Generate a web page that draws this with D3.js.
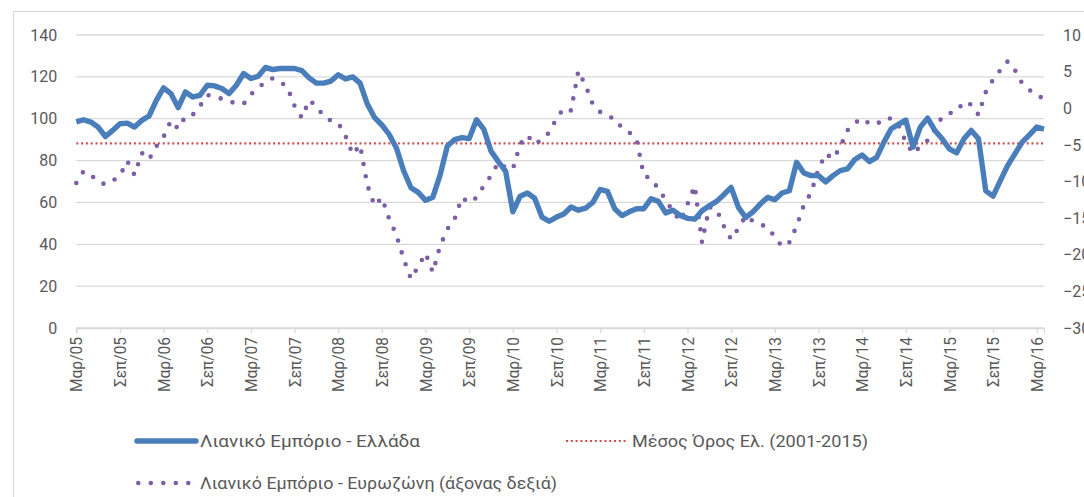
<!DOCTYPE html>
<html><head><meta charset="utf-8">
<script src="https://cdn.jsdelivr.net/npm/d3@7"></script>
<style>
body{margin:0;background:#fff}
svg{display:block}
text{font-family:Roboto,"Liberation Sans",sans-serif;fill:#595959}
</style>
</head><body>
<svg id="chart" width="1084" height="497"></svg>
<script>
// ---- data ----
const monthNames = ["Ιαν","Φεβ","Μαρ","Απρ","Μαϊ","Ιουν","Ιουλ","Αυγ","Σεπ","Οκτ","Νοε","Δεκ"];
// categories: Mar/05 ... Apr/16 (134 months)
const categories = [];
for (let k = 0; k < 134; k++) {
  const m = (2 + k) % 12, y = 5 + Math.floor((2 + k) / 12);
  categories.push(monthNames[m] + "/" + String(y).padStart(2, "0"));
}
const tickLabels = ["Μαρ/05","Σεπ/05","Μαρ/06","Σεπ/06","Μαρ/07","Σεπ/07","Μαρ/08","Σεπ/08","Μαρ/09","Σεπ/09","Μαρ/10","Σεπ/10","Μαρ/11","Σεπ/11","Μαρ/12","Σεπ/12","Μαρ/13","Σεπ/13","Μαρ/14","Σεπ/14","Μαρ/15","Σεπ/15","Μαρ/16"];
const leftTicks = [0,20,40,60,80,100,120,140];
const rightTicks = [-30,-25,-20,-15,-10,-5,0,5,10];

const greece = [
98.5,99.5,98.4,96,91.5,94.4,97.6,97.9,96,99.2,101.3,108.8,114.7,112,105.3,112.8,110.4,111.2,116,115.7,
114.4,112,116,121.6,119.2,120.3,124.5,123.5,124,124,124,123,119.5,117,117,118,121,119,120,117,
107,100.5,97,92.5,86,75,67,64.8,61,62.5,73,87,90,91,90.5,99.5,95,84.5,79.5,75,
55.5,63,64.5,62,53,51,53,54.5,57.8,56.3,57.3,60,66.2,65.3,57,53.7,55.5,57,57,61.8,
60.5,55,56.3,53.8,52.4,52,56,58.4,60.5,63.7,67.2,57.6,52.8,55.5,59.2,62.4,61.3,64.5,65.6,79.2,
74.1,72.8,72.8,69.8,72.8,75.2,76,80.5,82.7,79.5,81.5,88.8,95.2,97.3,99.4,86.4,96,100.3,94.4,90.4,
85.6,83.7,90.4,94.4,90.4,65.5,63,70.4,77.6,83.2,88.8,92.3,96,95
];
const eurozone = [
-10.2,-8.6,-9.1,-10.0,-10.4,-9.9,-9.2,-7.2,-9.1,-6.1,-7.0,-5.2,-3.9,-1.7,-2.8,-1.1,-0.9,0.3,1.8,1.6,
1.3,0.9,0.7,0.6,1.9,2.8,3.6,4.1,3.6,2.9,0.3,-1.3,1.1,0.3,-1.1,-1.7,-2.0,-3.8,-6.3,-5.0,
-10.5,-13.3,-12.2,-15.1,-17.3,-20.6,-23.3,-21.6,-19.8,-22.4,-18.8,-16.5,-15.1,-12.2,-12.9,-12.2,-10.6,-9.2,-7.4,-8.1,
-8.3,-4.9,-3.7,-4.9,-4.3,-3.3,-1.4,0.0,-0.3,5.1,3.1,0.5,-0.5,-1.1,-1.4,-2.7,-3.3,-4.2,-9.2,-9.6,
-11.0,-12.5,-14.1,-15.4,-13.1,-10.6,-18.3,-13.5,-13.8,-16.1,-17.9,-16.4,-14.7,-15.4,-15.8,-16.3,-17.5,-18.9,-18.3,-16.1,
-13.2,-11.5,-8.3,-6.2,-6.9,-5.3,-3.0,-2.0,-1.4,-2.1,-2.2,-1.4,-1.4,-2.3,-4.6,-6.2,-5.2,-4.4,-2.8,-1.2,
-0.7,-0.4,0.9,0.5,-0.9,2.2,3.9,5.2,6.4,5.2,3.4,2.5,1.8,1.3
];
const meanValue = [88.2];
const legendLabels = ["Λιανικό Εμπόριο  - Ελλάδα","Μέσος Όρος Ελ.  (2001-2015)","Λιανικό Εμπόριο - Ευρωζώνη (άξονας δεξιά)"];

// ---- chart ----
const svg = d3.select("#chart");
const X0 = 76.3, X1 = 1044, YT = 35, YB = 328;
const x = d3.scalePoint().domain(categories).range([X0, X1]);
const yL = d3.scaleLinear().domain([0,140]).range([YB, YT]);
const yR = d3.scaleLinear().domain([-30,10]).range([YB, YT]);

svg.append("rect").attr("x",13.5).attr("y",11.5).attr("width",1100).attr("height",520)
  .attr("fill","none").attr("stroke","#d9d9d9").attr("stroke-width",1.2);

// gridlines
svg.append("g").selectAll("line").data(leftTicks).join("line")
  .attr("x1",X0).attr("x2",X1).attr("y1",d=>yL(d)).attr("y2",d=>yL(d))
  .attr("stroke","#d9d9d9").attr("stroke-width",1.3);

// left axis
const gl = svg.append("g").attr("transform",`translate(${X0},0)`)
  .call(d3.axisLeft(yL).tickValues(leftTicks).tickSize(0).tickPadding(19));
gl.select(".domain").remove();
gl.selectAll("text").style("font-size","16px").attr("fill","#595959");

// right axis
const gr = svg.append("g").attr("transform",`translate(${X1},0)`)
  .call(d3.axisRight(yR).tickValues(rightTicks).tickSize(0).tickPadding(19));
gr.select(".domain").remove();
gr.selectAll("text").style("font-size","16px").attr("fill","#595959");

// bottom axis
const tickCats = categories.filter((c,i)=>i%6===0);
const gb = svg.append("g").attr("transform",`translate(0,${YB})`)
  .call(d3.axisBottom(x).tickValues(tickCats).tickSize(5).tickFormat((d,i)=>tickLabels[i]));
gb.select(".domain").attr("stroke","#d9d9d9").attr("stroke-width",1.3);
gb.selectAll(".tick line").attr("stroke","#d9d9d9").attr("stroke-width",1.3);
gb.selectAll("text").attr("transform","rotate(-90)").attr("text-anchor","end")
  .attr("x",-9).attr("y",0).attr("dy","0.35em").style("font-size","16px")
  .attr("textLength",d=>d.startsWith("Μ")?55:50).attr("lengthAdjust","spacingAndGlyphs")
  .attr("fill","#595959");

// mean line
svg.append("line").attr("x1",X0).attr("x2",X1).attr("y1",yL(meanValue[0])).attr("y2",yL(meanValue[0]))
  .attr("stroke","#d0504d").attr("stroke-width",2.2).attr("stroke-dasharray","2 2.8");

// eurozone dotted line (right axis)
const lineR = d3.line().x((d,i)=>x(categories[i])).y(d=>yR(d));
svg.append("path").datum(eurozone).attr("d",lineR).attr("fill","none")
  .attr("stroke","#7b5ea6").attr("stroke-width",4.6).attr("stroke-linecap","round")
  .attr("stroke-dasharray","0 12.5");

// greece line (left axis)
const lineL = d3.line().x((d,i)=>x(categories[i])).y(d=>yL(d));
svg.append("path").datum(greece).attr("d",lineL).attr("fill","none")
  .attr("stroke","#4a7ebb").attr("stroke-width",5.4).attr("stroke-linejoin","round");

// legend
const lg = svg.append("g");
lg.append("line").attr("x1",137).attr("x2",196).attr("y1",441).attr("y2",441)
  .attr("stroke","#4a7ebb").attr("stroke-width",5.5).attr("stroke-linecap","round");
lg.append("text").attr("x",200).attr("y",441).attr("dy","0.35em").style("font-size","16px")
  .attr("textLength",220).attr("lengthAdjust","spacingAndGlyphs").text(legendLabels[0]);
lg.append("line").attr("x1",566).attr("x2",626).attr("y1",441).attr("y2",441)
  .attr("stroke","#d0504d").attr("stroke-width",2).attr("stroke-dasharray","2 2.8");
lg.append("text").attr("x",632).attr("y",441).attr("dy","0.35em").style("font-size","16px")
  .attr("textLength",236).attr("lengthAdjust","spacingAndGlyphs").text(legendLabels[1]);
lg.append("line").attr("x1",138.3).attr("x2",189).attr("y1",483).attr("y2",483)
  .attr("stroke","#7b5ea6").attr("stroke-width",4.6).attr("stroke-linecap","round").attr("stroke-dasharray","0 12.5");
lg.append("text").attr("x",200).attr("y",483).attr("dy","0.35em").style("font-size","16px")
  .attr("textLength",357).attr("lengthAdjust","spacingAndGlyphs").text(legendLabels[2]);
</script>
</body></html>
